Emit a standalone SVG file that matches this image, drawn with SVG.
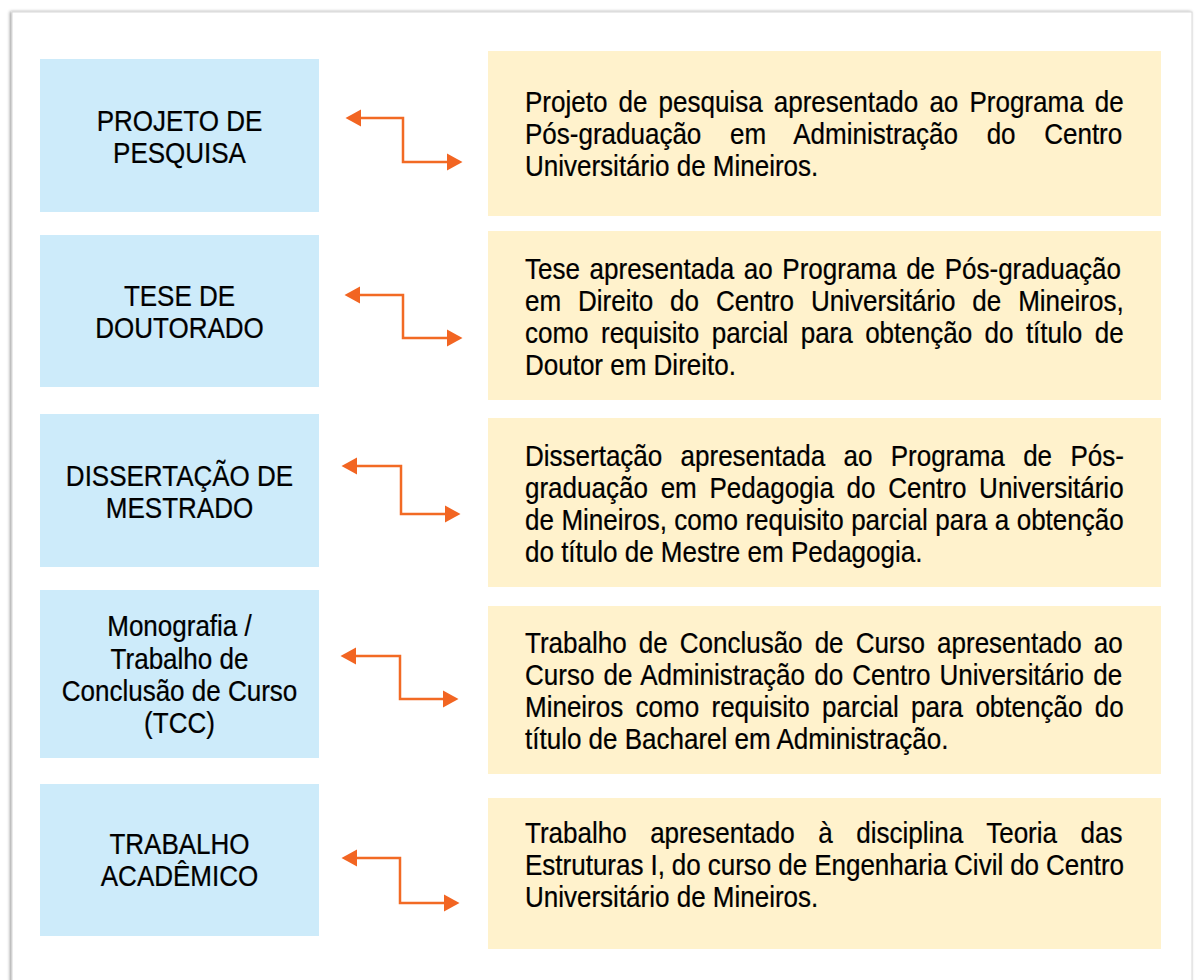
<svg xmlns="http://www.w3.org/2000/svg" width="1195" height="980" viewBox="0 0 1195 980">
<style>
.t{font-family:"Liberation Sans",Arial,sans-serif;font-size:30px;fill:#000;stroke:#000;stroke-width:0.25px;}
.c{text-anchor:middle;}
.lb{fill:#CDEBFA;}
.yb{fill:#FFF2CC;}
.arr{fill:none;stroke:#F26A24;stroke-width:2.5;marker-start:url(#ah);marker-end:url(#ah);}
</style>
<defs>
<marker id="ah" markerUnits="userSpaceOnUse" markerWidth="17" markerHeight="18" refX="1" refY="8.5" orient="auto-start-reverse" overflow="visible">
<path d="M0,0 L15.5,8.5 L0,17 z" fill="#F26522"/>
</marker>
<filter id="sh" x="-5%" y="-5%" width="110%" height="110%">
<feDropShadow dx="-1.5" dy="0" stdDeviation="1.5" flood-color="#000" flood-opacity="0.4"/>
</filter>
</defs>
<rect width="1195" height="980" fill="#fff"/>
<rect x="12" y="12" width="1180" height="1000" fill="#fff" stroke="#d8d8d8" stroke-width="1" filter="url(#sh)"/>

<g id="connectors">
<polyline class="arr" points="360,118 403,118 403,162 448,162"/>
<polyline class="arr" points="359,295 403,295 403,338 448,338"/>
<polyline class="arr" points="356,466 401,466 401,514 446,514"/>
<polyline class="arr" points="355,656 400,656 400,699 444,699"/>
<polyline class="arr" points="356,858 400,858 400,903 445,903"/>
</g>

<g id="n-projeto">
<rect class="lb" x="40" y="59" width="279" height="153"/>
<text class="t c" transform="matrix(0.867 0 0 1 179.5 131)">PROJETO DE</text>
<text class="t c" transform="matrix(0.867 0 0 1 179.5 163)">PESQUISA</text>
</g>
<g id="n-tese">
<rect class="lb" x="40" y="235" width="279" height="152"/>
<text class="t c" transform="matrix(0.867 0 0 1 179.5 306)">TESE DE</text>
<text class="t c" transform="matrix(0.867 0 0 1 179.5 338)">DOUTORADO</text>
</g>
<g id="n-dissertacao">
<rect class="lb" x="40" y="414" width="279" height="153"/>
<text class="t c" transform="matrix(0.867 0 0 1 179.5 486)">DISSERTAÇÃO DE</text>
<text class="t c" transform="matrix(0.867 0 0 1 179.5 518)">MESTRADO</text>
</g>
<g id="n-tcc">
<rect class="lb" x="40" y="590" width="279" height="168"/>
<text class="t c" transform="matrix(0.867 0 0 1 179.5 636)">Monografia /</text>
<text class="t c" transform="matrix(0.867 0 0 1 179.5 668.5)">Trabalho de</text>
<text class="t c" transform="matrix(0.867 0 0 1 179.5 701)">Conclusão de Curso</text>
<text class="t c" transform="matrix(0.867 0 0 1 179.5 733)">(TCC)</text>
</g>
<g id="n-trabalho">
<rect class="lb" x="40" y="784" width="279" height="152"/>
<text class="t c" transform="matrix(0.867 0 0 1 179.5 854)">TRABALHO</text>
<text class="t c" transform="matrix(0.867 0 0 1 179.5 886)">ACADÊMICO</text>
</g>

<g id="d-projeto">
<rect class="yb" x="488" y="51" width="673" height="165"/>
<text class="t" transform="matrix(0.867 0 0 1 525 112)" style="word-spacing:4.5px">Projeto de pesquisa apresentado ao Programa de</text>
<text class="t" transform="matrix(0.867 0 0 1 525 144)" style="word-spacing:24.7px">Pós-graduação em Administração do Centro</text>
<text class="t" transform="matrix(0.867 0 0 1 525 176)">Universitário de Mineiros.</text>
</g>
<g id="d-tese">
<rect class="yb" x="488" y="231" width="673" height="169"/>
<text class="t" transform="matrix(0.867 0 0 1 525 278.5)" style="word-spacing:2.8px">Tese apresentada ao Programa de Pós-graduação</text>
<text class="t" transform="matrix(0.867 0 0 1 525 310.5)" style="word-spacing:11.2px">em Direito do Centro Universitário de Mineiros,</text>
<text class="t" transform="matrix(0.867 0 0 1 525 342.5)" style="word-spacing:6px">como requisito parcial para obtenção do título de</text>
<text class="t" transform="matrix(0.867 0 0 1 525 374.5)">Doutor em Direito.</text>
</g>
<g id="d-dissertacao">
<rect class="yb" x="488" y="418" width="673" height="169"/>
<text class="t" transform="matrix(0.867 0 0 1 525 465.5)" style="word-spacing:12.8px">Dissertação apresentada ao Programa de Pós-</text>
<text class="t" transform="matrix(0.867 0 0 1 525 497.5)" style="word-spacing:6.4px">graduação em Pedagogia do Centro Universitário</text>
<text class="t" transform="matrix(0.867 0 0 1 525 529.5)" style="word-spacing:0.3px">de Mineiros, como requisito parcial para a obtenção</text>
<text class="t" transform="matrix(0.867 0 0 1 525 561.5)">do título de Mestre em Pedagogia.</text>
</g>
<g id="d-tcc">
<rect class="yb" x="488" y="606" width="673" height="168"/>
<text class="t" transform="matrix(0.867 0 0 1 525 653)" style="word-spacing:5.6px">Trabalho de Conclusão de Curso apresentado ao</text>
<text class="t" transform="matrix(0.867 0 0 1 525 685)" style="word-spacing:2.3px">Curso de Administração do Centro Universitário de</text>
<text class="t" transform="matrix(0.867 0 0 1 525 717)" style="word-spacing:5.9px">Mineiros como requisito parcial para obtenção do</text>
<text class="t" transform="matrix(0.867 0 0 1 525 749)">título de Bacharel em Administração.</text>
</g>
<g id="d-trabalho">
<rect class="yb" x="488" y="798" width="673" height="151"/>
<text class="t" transform="matrix(0.867 0 0 1 525 843)" style="word-spacing:18.8px">Trabalho apresentado à disciplina Teoria das</text>
<text class="t" transform="matrix(0.867 0 0 1 525 875)" style="word-spacing:-0.3px">Estruturas I, do curso de Engenharia Civil do Centro</text>
<text class="t" transform="matrix(0.867 0 0 1 525 907)">Universitário de Mineiros.</text>
</g>
</svg>
